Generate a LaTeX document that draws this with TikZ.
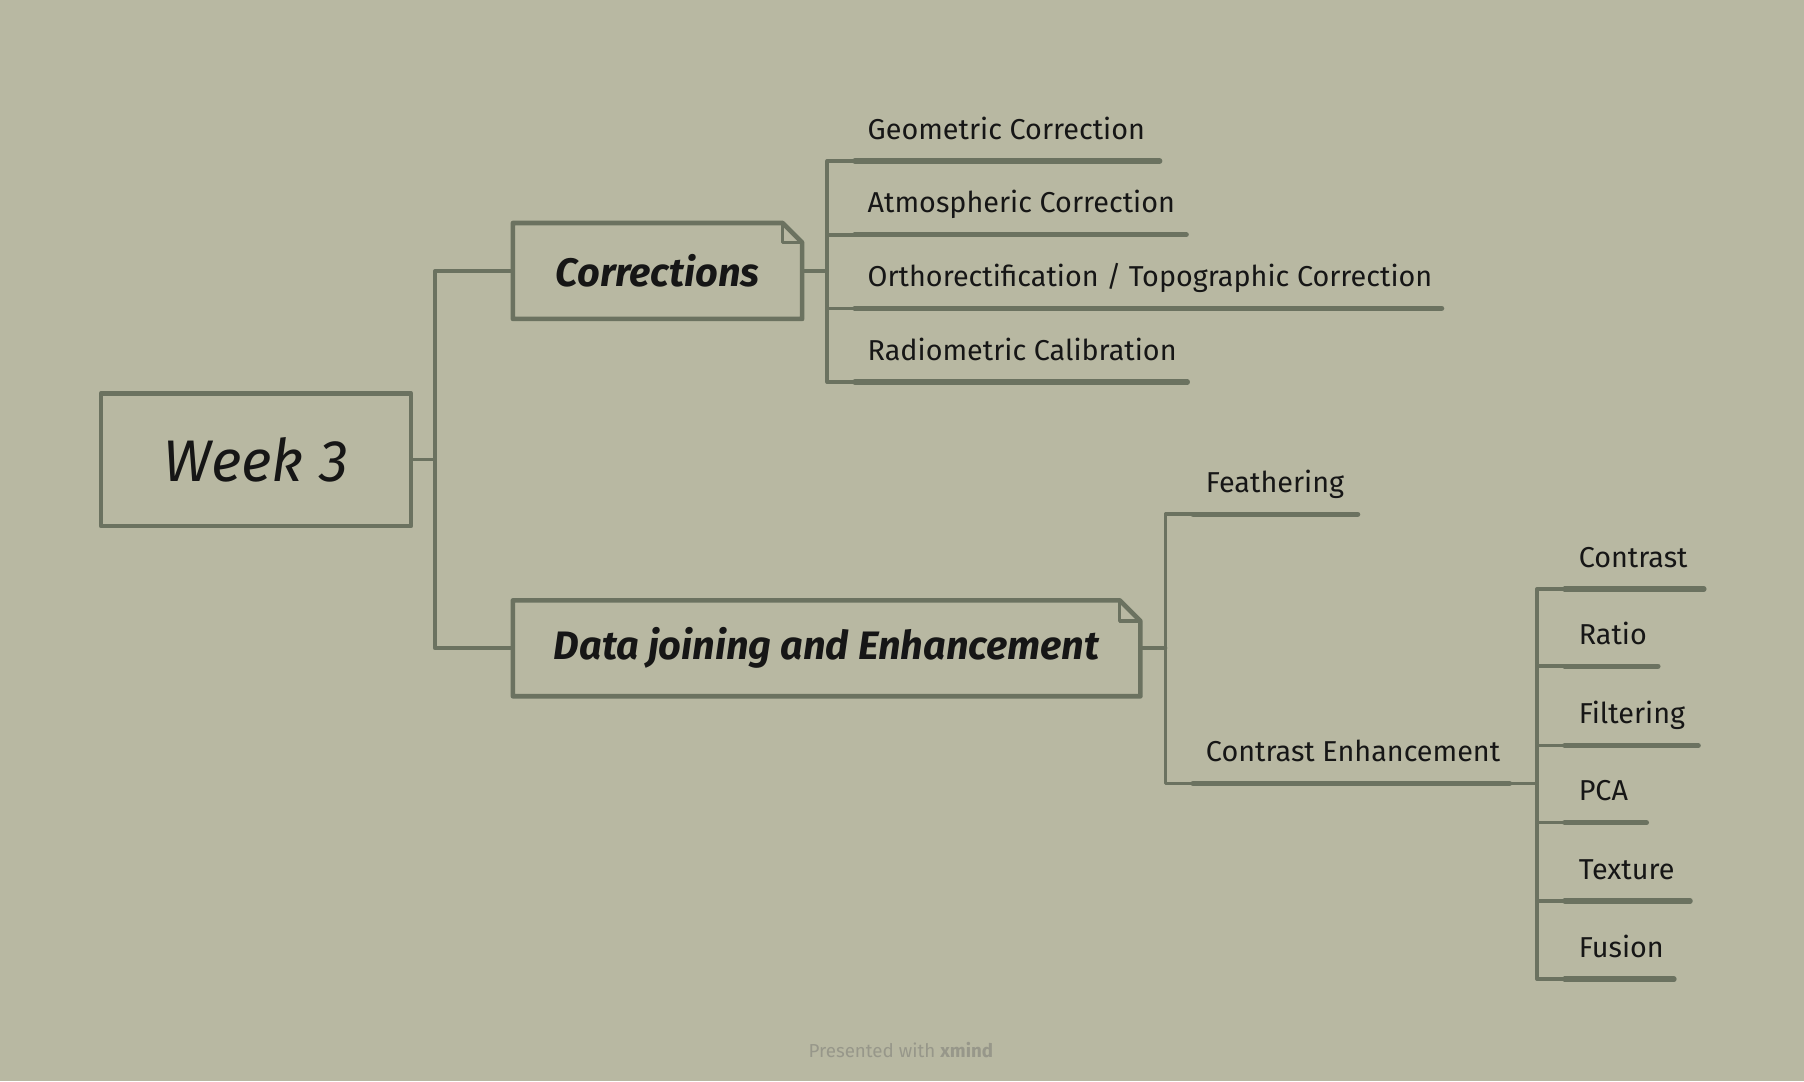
\documentclass[tikz,border=0pt]{standalone}
\usepackage{fontspec}
\setmainfont{Fira Sans}
\usetikzlibrary{calc}
\definecolor{bgc}{HTML}{B8B8A2}
\definecolor{lnc}{HTML}{6B7260}
\definecolor{txc}{HTML}{161616}
\definecolor{ftc}{HTML}{97978A}
\tikzset{
  conn/.style={draw=lnc, line width=3.2pt, line join=round, line cap=round},
  uline/.style={draw=lnc, line width=4.6pt, line cap=round},
  boxline/.style={draw=lnc, line width=4pt, line join=round},
  mainbox/.style={rectangle, inner sep=0pt, text=txc, font=\fontsize{34.5}{40}\selectfont\bfseries\itshape},
  leaf/.style={anchor=base west, inner sep=0pt, text=txc, font=\fontsize{25}{29}\selectfont},
}
\begin{document}
\begin{tikzpicture}[x=1pt,y=-1pt]
\fill[bgc] (0,0) rectangle (1568,940);
\useasboundingbox (0,0) rectangle (1568,940);

% root
\node[rectangle, inner sep=0pt, minimum width=269pt, minimum height=115pt, text=txc,
      font=\fontsize{51}{56}\selectfont\itshape] (week) at (222.5,399.5) {Week 3};
\draw[boxline] (week.north west) rectangle (week.south east);

% main topics
\node[mainbox, minimum width=251pt, minimum height=83pt] (corr) at (571.5,235.5) {Corrections};
\draw[boxline] (corr.south west) -- (corr.north west) -- ($(corr.north east)+(-17,0)$)
   -- ($(corr.north east)+(0,17)$) -- (corr.south east) -- cycle;
\draw[boxline, line width=2.8pt] ($(corr.north east)+(-17,0)$) -- ($(corr.north east)+(-17,17)$) -- ($(corr.north east)+(0,17)$);

\node[mainbox, minimum width=545pt, minimum height=83pt] (data) at (718.5,563.5) {Data joining and Enhancement};
\draw[boxline] (data.south west) -- (data.north west) -- ($(data.north east)+(-18,0)$)
   -- ($(data.north east)+(0,18)$) -- (data.south east) -- cycle;
\draw[boxline, line width=2.8pt] ($(data.north east)+(-18,0)$) -- ($(data.north east)+(-18,18)$) -- ($(data.north east)+(0,18)$);

% root connectors
\coordinate (wb) at (378,399.5);
\draw[conn] (week.east) -- (wb);
\draw[conn] (wb) |- (corr.west);
\draw[conn] (wb) |- (data.west);

% corrections leaves
\coordinate (cb) at (719,235.5);
\draw[conn] (corr.east) -- (cb);
\foreach \n/\y/\xe/\t in {g1/140/1008/{Geometric Correction}, g2/204/1031/{Atmospheric Correction},
   g3/268/1253/{Orthorectification / Topographic Correction}, g4/332/1032/{Radiometric Calibration}}{
  \node[leaf] (\n) at (754,\y-19) {\t};
  \coordinate (\n s) at (743,\y);
  \coordinate (\n e) at (\xe,\y);
  \draw[uline] (\n s) -- (\n e);
  \draw[conn] (cb) |- (\n s);
}

% data leaves
\coordinate (db) at (1013,563.5);
\draw[conn] (data.east) -- (db);
\node[leaf] (fe) at (1048,428) {Feathering};
\coordinate (fes) at (1037,447);
\coordinate (fee) at (1180,447);
\draw[uline] (fes) -- (fee);
\draw[conn] (db) |- (fes);

\node[leaf] (ce) at (1048,662) {Contrast Enhancement};
\coordinate (ces) at (1037,681);
\coordinate (cee) at (1312,681);
\draw[uline] (ces) -- (cee);
\draw[conn] (db) |- (ces);

\coordinate (eb) at (1336,681);
\draw[conn] (cee) -- (eb);
\foreach \n/\y/\xe/\t in {h1/512/1481/Contrast, h2/579/1441/Ratio, h3/648/1476/Filtering,
   h4/715/1431/PCA, h5/783/1469/Texture, h6/851/1455/Fusion}{
  \node[leaf] (\n) at (1372,\y-19) {\t};
  \coordinate (\n s) at (1360,\y);
  \coordinate (\n e) at (\xe,\y);
  \draw[uline] (\n s) -- (\n e);
  \draw[conn] (eb) |- (\n s);
}

% footer
\node[text=ftc, font=\fontsize{16.3}{18}\selectfont, inner sep=0pt] (foot) at (783,913) {Presented with \textbf{xmind}};
\end{tikzpicture}
\end{document}
